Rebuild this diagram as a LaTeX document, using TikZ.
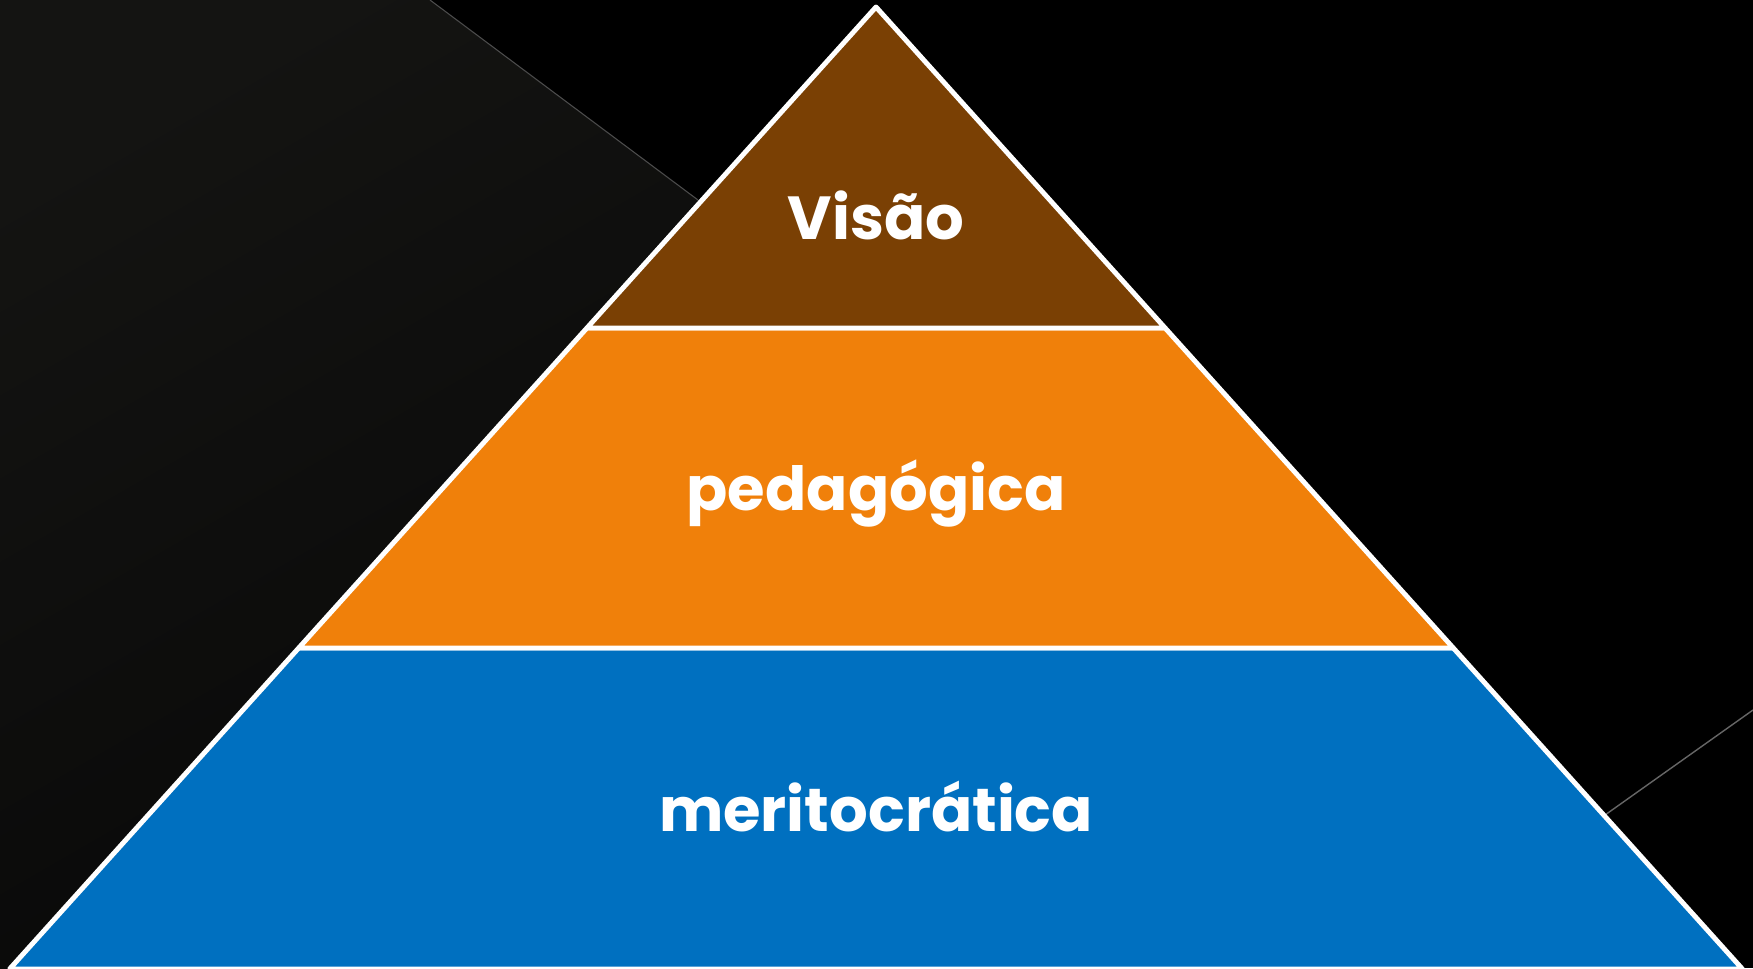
\documentclass[tikz,border=0pt]{standalone}
\usepackage{fontspec}
\newfontfamily\pyrfont{Poppins}
\usepackage{xcolor}
\usepackage{tikz}
\usetikzlibrary{calc}
\definecolor{bgdark}{HTML}{141412}
\definecolor{bgdarker}{HTML}{080808}
\definecolor{brownlayer}{HTML}{7A4004}
\definecolor{orangelayer}{HTML}{F0800A}
\definecolor{bluelayer}{HTML}{0070C0}
\tikzset{
  layer/.style={draw=white, line width=1.4pt, line join=round},
  layertext/.style={text=white, font=\pyrfont\bfseries\fontsize{17.3}{20}\selectfont, anchor=base, inner sep=0pt}
}

\begin{document}
\begin{tikzpicture}[x=0.1mm, y=-0.1mm]
\useasboundingbox (0,0) rectangle (1753,968);
\fill[black] (0,0) rectangle (1753,968);
% dark panel on the left
\shade[top color=bgdark, bottom color=bgdarker, shading angle=30]
  (0,0) -- (430,0) -- (698,200) -- (9.6,969) -- (0,969) -- cycle;
\draw[color=black!70!white, line width=0.3pt] (430,0) -- (698,200);
\draw[color=black!60!white, line width=0.4pt] (1753,710) -- (1605,815);
% pyramid corners
\coordinate (apex) at (876,7);
\coordinate (l1) at (586.9,328); \coordinate (r1) at (1165.1,328);
\coordinate (l2) at (298.7,648); \coordinate (r2) at (1453.3,648);
\coordinate (l3) at (9.6,969);   \coordinate (r3) at (1742.4,969);
\filldraw[layer, fill=bluelayer] (l2) -- (r2) -- (r3) -- (l3) -- cycle;
\filldraw[layer, fill=orangelayer] (l1) -- (r1) -- (r2) -- (l2) -- cycle;
\filldraw[layer, fill=brownlayer] (apex) -- (r1) -- (l1) -- cycle;%
\node[layertext] (visao) at (876,239) {Visão};
\node[layertext] (pedagogica) at (876,510) {pedagógica};
\node[layertext] (meritocratica) at (876,831) {meritocrática};
\end{tikzpicture}
\end{document}
